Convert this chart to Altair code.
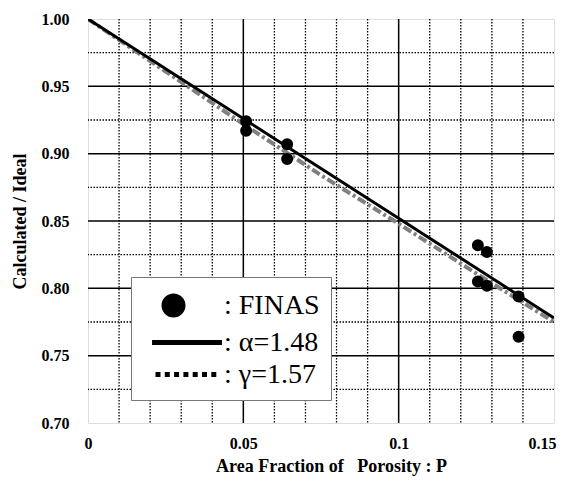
import altair as alt
import pandas as pd

# FINAS data points
finas_p = [0.0509, 0.0509, 0.0641, 0.0641, 0.1255, 0.1284, 0.1255, 0.1284, 0.1386, 0.1386]
finas_v = [0.924, 0.917, 0.907, 0.896, 0.832, 0.827, 0.805, 0.802, 0.794, 0.764]

# alpha = 1.48 line (solid)
alpha_p = [0.0, 0.15]
alpha_v = [1.0, 0.778]

# gamma = 1.57 curve (dash-dot, gray)
gamma_p = [0.0, 0.025, 0.05, 0.075, 0.1, 0.125, 0.15]
gamma_v = [1.0, 0.961, 0.922, 0.884, 0.848, 0.811, 0.775]

labels = [": FINAS", ": \u03b1=1.48", ": \u03b3=1.57"]

minor_x = [0.01, 0.02, 0.03, 0.04, 0.06, 0.07, 0.08, 0.09, 0.11, 0.12, 0.13, 0.14]
major_x = [0.05, 0.10]
minor_y = [0.725, 0.775, 0.825, 0.875, 0.925, 0.975]
major_y = [0.75, 0.80, 0.85, 0.90, 0.95]

SERIF = "Liberation Serif"

xs = alt.Scale(domain=[0, 0.15], nice=False, zero=False)
ys = alt.Scale(domain=[0.70, 1.00], nice=False, zero=False)

xaxis = alt.Axis(values=[0, 0.05, 0.1, 0.15], format="~g",
                 title="Area Fraction of \u00a0\u00a0Porosity : P",
                 grid=False, ticks=False, domain=False, labelPadding=12, titlePadding=6,
                 titleX=243,
                 labelFont=SERIF, labelFontWeight="bold", labelFontSize=16,
                 titleFont=SERIF, titleFontWeight="bold", titleFontSize=18, labelColor="black",
                 titleColor="black", labelFlush=False,
                 labelAlign={"condition": {"test": "datum.value >= 0.149", "value": "right"}, "value": "center"},
                 labelOffset={"condition": {"test": "datum.value >= 0.149", "value": 2}, "value": 0})
yaxis = alt.Axis(values=[0.70, 0.75, 0.80, 0.85, 0.90, 0.95, 1.00], format=".2f", title="Calculated / Ideal",
                 grid=False, ticks=False, domain=False, labelPadding=19, titlePadding=12,
                 labelFont=SERIF, labelFontWeight="bold", labelFontSize=16,
                 titleFont=SERIF, titleFontWeight="bold", titleFontSize=18, labelColor="black",
                 titleColor="black")

df_mx = pd.DataFrame({"x": minor_x})
df_Mx = pd.DataFrame({"x": major_x})
df_my = pd.DataFrame({"y": minor_y})
df_My = pd.DataFrame({"y": major_y})

grid_minor_x = alt.Chart(df_mx).mark_rule(color="black", strokeWidth=1.3, strokeDash=[1.5, 1.5]).encode(
    x=alt.X("x:Q", scale=xs, axis=xaxis))
grid_minor_y = alt.Chart(df_my).mark_rule(color="black", strokeWidth=1.3, strokeDash=[1.5, 1.5]).encode(
    y=alt.Y("y:Q", scale=ys, axis=yaxis))
grid_major_x = alt.Chart(df_Mx).mark_rule(color="black", strokeWidth=1.5).encode(
    x=alt.X("x:Q", scale=xs))
grid_major_y = alt.Chart(df_My).mark_rule(color="black", strokeWidth=1.5).encode(
    y=alt.Y("y:Q", scale=ys))

df_g = pd.DataFrame({"p": gamma_p, "v": gamma_v})
df_a = pd.DataFrame({"p": alpha_p, "v": alpha_v})
df_f = pd.DataFrame({"p": finas_p, "v": finas_v, "s": [labels[0]] * len(finas_p)})

gamma_line = alt.Chart(df_g).mark_line(color="#808080", strokeWidth=4, strokeDash=[9, 3, 3, 3], clip=True).encode(
    x=alt.X("p:Q", scale=xs), y=alt.Y("v:Q", scale=ys))
alpha_line = alt.Chart(df_a).mark_line(color="black", strokeWidth=3, clip=True).encode(
    x=alt.X("p:Q", scale=xs), y=alt.Y("v:Q", scale=ys))

# legend symbols: unit = 15 px (symbolSize 900); circle centred on the symbol origin,
# line samples shifted to the right of it
circle_rings = ""
for r in [0.633, 0.4, 0.167]:
    circle_rings += "M%.3f,0A%.3f,%.3f 0 1,0 %.3f,0A%.3f,%.3f 0 1,0 %.3f,0Z" % (-r, r, r, r, r, r, -r)
shift = 0.9
solid_path = "M%.3f,0H%.3f" % (-2.33 + shift, 2.33 + shift)
dots = []
for k in range(7):
    s = -2.1 + shift + k * 0.62
    dots.append("M%.3f,0H%.3f" % (s, s + 0.333))
dotted_path = "".join(dots)

points = alt.Chart(df_f).mark_point(filled=False, color="black", strokeWidth=2.5,
                                    size=225, opacity=1).encode(
    x=alt.X("p:Q", scale=xs), y=alt.Y("v:Q", scale=ys),
    shape=alt.Shape("s:N", scale=alt.Scale(domain=labels, range=[circle_rings, solid_path, dotted_path]),
                    legend=alt.Legend(title=None, orient="none", legendX=43, legendY=258,
                                      symbolSize=900, symbolStrokeWidth=5,
                                      labelFont=SERIF, labelFontSize=28,
                                      labelColor="black", labelLimit=300, labelOffset=33,
                                      symbolOffset=14, rowPadding=0, padding=11,
                                      fillColor="white", strokeColor="#777777",
                                      cornerRadius=0, symbolOpacity=1))
)

chart = alt.layer(grid_minor_x, grid_minor_y, grid_major_x, grid_major_y, gamma_line, alpha_line, points).properties(
    width=466, height=404, autosize="none",
    padding={"left": 80, "top": 11, "right": 3, "bottom": 53}
).configure_view(stroke="black", strokeWidth=4).configure_legend(strokeWidth=2).configure(background="white")

chart.save("out.html", embed_options={"renderer": "svg", "actions": False})
